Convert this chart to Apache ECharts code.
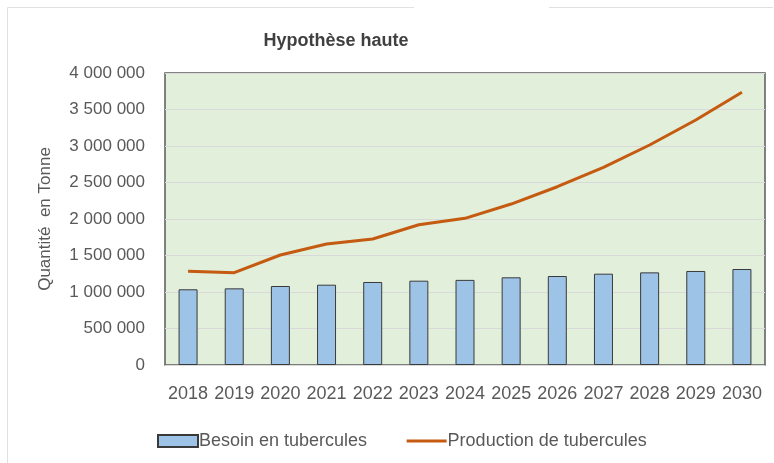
<!DOCTYPE html>
<html>
<head>
<meta charset="utf-8">
<script src="https://cdn.jsdelivr.net/npm/echarts@6/dist/echarts.min.js"></script>
<style>
  html, body { margin: 0; padding: 0; background: #fff; }
  #chart { width: 774px; height: 463px; }
</style>
</head>
<body>
<div id="chart"></div>
<script>
const years = ['2018', '2019', '2020', '2021', '2022', '2023', '2024', '2025', '2026', '2027', '2028', '2029', '2030']
const besoin = [1037000, 1050000, 1082000, 1100000, 1137000, 1155000, 1166000, 1201000, 1219000, 1251000, 1269000, 1288000, 1315000]
const production = [1283000, 1265000, 1507000, 1658000, 1726000, 1922000, 2009000, 2205000, 2442000, 2708000, 3014000, 3356000, 3736000]

const font = "'Liberation Sans', Arial, sans-serif"

function fmt(v) {
  return String(v).replace(/\B(?=(\d{3})+(?!\d))/g, ' ')
}

const chart = echarts.init(document.getElementById('chart'))
chart.setOption({
  animation: false,
  backgroundColor: '#fff',
  title: {
    text: 'Hypothèse haute',
    left: 331,
    top: 27,
    textAlign: 'center',
    textStyle: { fontFamily: font, fontSize: 18, fontWeight: 'bold', color: '#404040' }
  },
  grid: {
    left: 165,
    right: 9,
    top: 73,
    bottom: 98,
    show: true,
    backgroundColor: '#E2EFDA',
    borderColor: '#595959',
    borderWidth: 1.5
  },
  legend: {
    top: 427,
    left: 152,
    itemGap: 38,
    itemWidth: 40,
    itemHeight: 12,
    textStyle: { fontFamily: font, fontSize: 18, color: '#595959', padding: [0, 0, 0, -4] },
    data: [
      { name: 'Besoin en tubercules', icon: 'rect' },
      { name: 'Production de tubercules', itemStyle: { opacity: 0 }, lineStyle: { width: 3 } }
    ]
  },
  xAxis: {
    type: 'category',
    data: years,
    axisLine: { show: false },
    axisTick: { show: false },
    axisLabel: { fontFamily: font, fontSize: 18, color: '#595959', margin: 20, interval: 0 }
  },
  yAxis: {
    type: 'value',
    min: 0,
    max: 4000000,
    interval: 500000,
    name: 'Quantité  en Tonne',
    nameLocation: 'middle',
    nameGap: 111,
    nameTextStyle: { fontFamily: font, fontSize: 17, color: '#595959' },
    axisLine: { show: false },
    axisTick: { show: false },
    splitLine: { lineStyle: { color: '#D9D9D9', width: 1 } },
    axisLabel: { fontFamily: font, fontSize: 17, color: '#595959', margin: 20, formatter: fmt }
  },
  series: [
    {
      name: 'Besoin en tubercules',
      type: 'bar',
      data: besoin,
      barWidth: 19,
      itemStyle: { color: '#9DC3E6', borderColor: '#3A3A3A', borderWidth: 1 }
    },
    {
      name: 'Production de tubercules',
      type: 'line',
      data: production,
      symbol: 'none',
      lineStyle: { color: '#C55A11', width: 3 },
      itemStyle: { color: '#C55A11' }
    }
  ],
  graphic: [
    { type: 'polyline', shape: { points: [[414, 7.5], [7.5, 7.5], [7.5, 463]] }, style: { stroke: '#E0E0E0', lineWidth: 1, fill: null } },
    { type: 'polyline', shape: { points: [[549, 7.5], [773, 7.5]] }, style: { stroke: '#E0E0E0', lineWidth: 1, fill: null } }
  ]
})
</script>
</body>
</html>
